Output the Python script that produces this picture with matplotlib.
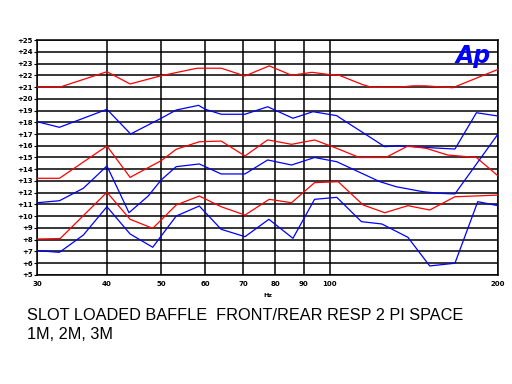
import matplotlib.pyplot as plt
import numpy as np

# curve data (Hz, dB)
f_red1 = [30, 33, 40, 44, 50, 56, 58, 64, 70.6, 78, 85.5, 93, 102, 104, 114.6, 119, 132, 141, 148, 166, 200]
v_red1 = [21.0, 21.0, 22.3, 21.26, 21.96, 22.45, 22.6, 22.6, 21.94, 22.8, 22.0, 22.25, 22.0, 22.0, 21.2, 20.97, 20.97, 21.1, 21.1, 20.94, 22.5]

f_blue1 = [30, 32.9, 40, 44.1, 50, 53.2, 58.3, 60, 64, 70.6, 77.5, 86, 93.4, 103, 104, 125.5, 132, 149, 167.5, 183, 200]
v_blue1 = [18.05, 17.57, 19.1, 17.0, 18.34, 19.04, 19.44, 19.1, 18.68, 18.68, 19.32, 18.34, 18.9, 18.56, 18.42, 15.92, 16.0, 15.85, 15.72, 18.81, 18.53]

f_red2 = [30, 32.9, 40, 44, 50, 53.2, 58.5, 64, 70.6, 77.5, 85.5, 94, 103, 113, 126, 138, 148.8, 162.6, 183, 200]
v_red2 = [13.23, 13.23, 15.98, 13.31, 14.73, 15.7, 16.34, 16.4, 15.13, 16.5, 16.12, 16.49, 15.78, 15.0, 15.0, 15.98, 15.78, 15.21, 15.0, 13.43]

f_blue2 = [30, 32.9, 36.3, 40, 43.8, 47.4, 50, 53.2, 58.5, 64, 70.6, 77.5, 85.5, 94, 103, 123, 131.6, 146.8, 157, 167.5, 200]
v_blue2 = [11.15, 11.32, 12.38, 14.28, 10.3, 11.72, 13.09, 14.22, 14.45, 13.6, 13.6, 14.79, 14.36, 15.0, 14.64, 12.94, 12.51, 12.09, 11.95, 11.9, 17.0]

f_red3 = [30, 33, 40, 44, 48.3, 53.2, 58.5, 64, 70.6, 78, 85.5, 94, 103.6, 114.8, 125.5, 138, 151, 167.5, 200]
v_red3 = [8.06, 8.1, 12.04, 9.74, 8.97, 10.96, 11.72, 10.81, 10.1, 11.44, 11.15, 12.86, 12.94, 10.96, 10.3, 10.9, 10.53, 11.66, 11.8]

f_blue3 = [30, 32.9, 36.3, 40, 44, 48.3, 53.2, 58.5, 64, 70.6, 77.9, 86, 94, 103, 114, 124, 138, 151, 167.5, 184, 200]
v_blue3 = [7.07, 6.93, 8.4, 10.81, 8.49, 7.36, 10.02, 10.87, 8.89, 8.26, 9.74, 8.12, 11.44, 11.61, 9.54, 9.34, 8.21, 5.77, 6.0, 11.24, 10.9]

xticks = [30, 40, 50, 60, 70, 80, 90, 100, 200]
yticks = list(range(5, 26))

fig = plt.figure(figsize=(5.12, 3.84), dpi=100)
ax = fig.add_axes([0.0723, 0.2839, 0.9004, 0.6119])

for f, v, c in [(f_red1, v_red1, 'red'), (f_blue1, v_blue1, 'blue'),
                (f_red2, v_red2, 'red'), (f_blue2, v_blue2, 'blue'),
                (f_red3, v_red3, 'red'), (f_blue3, v_blue3, 'blue')]:
    ax.plot(f, v, color=c, lw=0.9, zorder=3)

ax.set_xscale('log')
ax.set_xlim(30, 200)
ax.set_ylim(5, 25)
ax.set_xticks(xticks)
ax.set_xticklabels([str(t) for t in xticks], fontsize=5, fontweight='bold')
ax.minorticks_off()
ax.set_yticks(yticks)
ax.set_yticklabels(['+%d' % t for t in yticks], fontsize=5, fontweight='bold')
ax.tick_params(axis='x', length=0, pad=4)
ax.tick_params(axis='y', length=2, width=0.8, pad=1)
ax.grid(True, color='black', lw=1.1)
for s in ax.spines.values():
    s.set_linewidth(1.1)
ax.set_xlabel('Hz', fontsize=4.5, fontweight='bold', labelpad=5)

ax.text(0.985, 0.93, 'Ap', transform=ax.transAxes, color='blue', fontsize=17,
        fontweight='bold', fontstyle='italic', ha='right', va='center', zorder=4)

fig.text(0.053, 0.153, 'SLOT LOADED BAFFLE  FRONT/REAR RESP 2 PI SPACE\n1M, 2M, 3M',
         fontsize=11.7, family='Liberation Sans', va='center', ha='left', linespacing=1.3)

fig.savefig('out.png', dpi=100)
